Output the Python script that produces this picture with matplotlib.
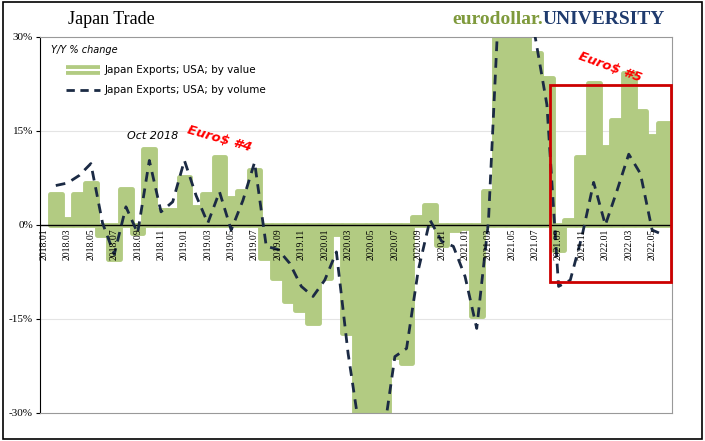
import numpy as np
import matplotlib
matplotlib.use("Agg")
import matplotlib.pyplot as plt
from matplotlib.patches import Rectangle

months = [f"{y}.{m:02d}" for y in range(2018, 2023) for m in range(1, 13)][:54]
nan = np.nan
by_value = [nan, 5.0, 0.9, 5.0, 6.7, -1.6, -5.5, 5.8, -1.3, 12.1, 2.4, 2.4,
            7.6, 2.9, 5.0, 10.8, 4.3, 5.5, 8.8, -5.3, -8.4, -12.1, -13.6, -15.7,
            -8.5, -1.5, -17.3, -30.0, -30.0, -30.0, -21.0, -22.0, 1.2, 3.2, -3.2, -0.8,
            -0.5, -14.6, 5.5, 35.0, 35.0, 35.0, 27.4, 23.4, -4.0, 0.8, 10.8, 22.6,
            12.4, 16.7, 24.2, 18.2, 14.2, 16.3]
by_volume = [nan, 6.3, 6.7, 7.9, 9.8, 0.3, -4.7, 2.9, -1.3, 10.3, 2.1, 3.7,
             10.3, 4.7, 0.3, 5.3, -0.8, 3.9, 10.0, -3.4, -3.9, -6.1, -9.8, -11.4,
             -8.8, -4.3, -20.5, -33.0, -36.0, -34.0, -21.0, -19.7, -7.2, 0.8, -2.6, -3.4,
             -8.2, -16.5, 0.5, 40.0, 45.0, 40.0, 30.0, 19.2, -9.8, -8.8, -1.8, 6.8,
             0.0, 5.5, 11.3, 8.2, -0.8, -1.6]
tick_labels = months[::2]
yticks = [-30, -15, 0, 15, 30]

serif = "Liberation Serif"
green = "#b2cb82"
navy = "#1b2a44"

fig = plt.figure(figsize=(7.05, 4.41), dpi=100)
fig.patches.append(Rectangle((0.004, 0.005), 0.992, 0.99, transform=fig.transFigure,
                             fill=False, edgecolor="black", lw=1.2))
ax = fig.add_axes([40/705, 1-413/441, 632/705, 376/441])
x = np.arange(len(months))
ax.bar(x, by_value, width=1.0, color=green, edgecolor=green, linewidth=3.5,
       joinstyle="round", zorder=2)
ax.plot(x, by_volume, color=navy, lw=2, dashes=(3.5, 2.5), zorder=4)
ax.axhline(0, color="black", lw=1, zorder=3)
for v in (-15, 15):
    ax.axhline(v, color="#e4e4e4", lw=0.8, zorder=1)
ax.set_ylim(-30, 30)
ax.set_xlim(-0.35, 53.7)
ax.set_yticks(yticks)
ax.set_yticklabels([f"{v}%" for v in yticks], fontfamily=serif, fontsize=8)
ax.set_xticks([])
for i in range(0, len(months), 2):
    ax.text(i, -0.6, months[i], rotation=90, ha="center", va="top",
            fontsize=7, fontfamily=serif, zorder=5)
for s in ("top", "right", "bottom"):
    ax.spines[s].set_color("#999999")
ax.spines["left"].set_color("black")
ax.tick_params(axis="y", length=3, pad=2)

# legend
ax.text(0.6, 27.5, "Y/Y % change", fontsize=7, style="italic", fontfamily="DejaVu Sans")
ax.plot([1.9, 4.8], [24.8, 24.8], color=green, lw=7, solid_capstyle="butt")
ax.plot([1.9, 4.8], [24.8, 24.8], color="white", lw=1.5)
ax.text(5.2, 24.8, "Japan Exports; USA; by value", fontsize=7.5, va="center")
ax.plot([1.9, 4.8], [21.6, 21.6], color=navy, lw=2, dashes=(3, 2))
ax.text(5.2, 21.6, "Japan Exports; USA; by volume", fontsize=7.5, va="center")

ax.text(9.3, 13.7, "Oct 2018", fontsize=8, style="italic", ha="center")
ax.text(15.0, 13.8, "Euro$ #4", fontsize=9.5, style="italic", fontweight="bold",
        color="red", rotation=-16, ha="center", va="center")
ax.text(48.4, 25.2, "Euro$ #5", fontsize=9.5, style="italic", fontweight="bold",
        color="red", rotation=-20, ha="center", va="center")
ax.add_patch(Rectangle((43.25, -9.1), 10.35, 31.4, fill=False, edgecolor="#cc0000",
                       lw=2, zorder=6, clip_on=False))

fig.text(68/705, 1-20/441, "Japan Trade", fontsize=13, fontfamily=serif, va="center")
t1 = fig.text(452/705, 1-19/441, "eurodollar.", fontsize=14, fontfamily=serif,
              fontweight="bold", color="#7f9a3c", va="center")
fig.canvas.draw()
bb = t1.get_window_extent()
fig.text(bb.x1/705, 1-19/441, "UNIVERSITY", fontsize=14, fontfamily=serif,
         fontweight="bold", color="#1f3b6e", va="center")
fig.savefig("out.png", dpi=100)
